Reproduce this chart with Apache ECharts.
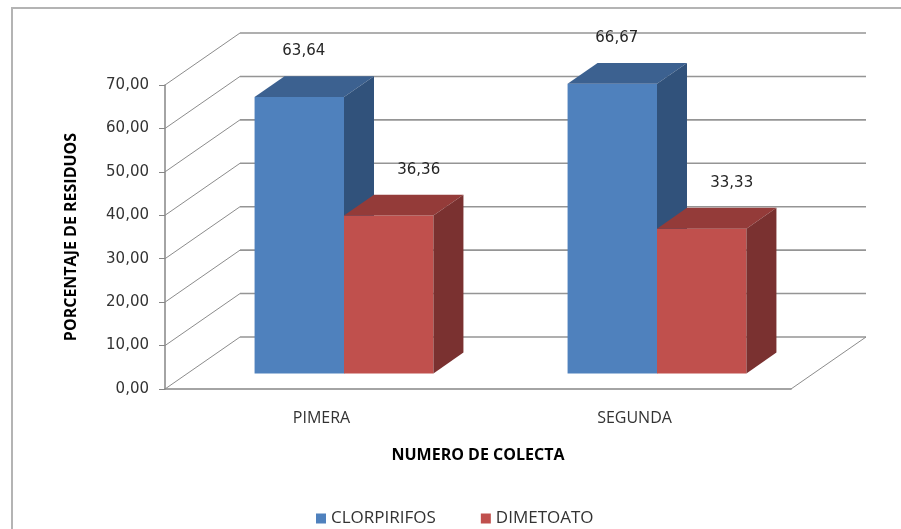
<!DOCTYPE html>
<html>
<head>
<meta charset="utf-8">
<script src="https://cdn.jsdelivr.net/npm/echarts@6/dist/echarts.min.js"></script>
<style>html,body{margin:0;padding:0;background:#fff;}#c{width:901px;height:529px;}</style>
</head>
<body>
<div id="c"></div>
<script>
// ---- data ----
const categories = ['PIMERA', 'SEGUNDA'];
const clorpirifos = [63.64, 66.67];
const dimetoato = [36.36, 33.33];
const yTicks = [0, 10, 20, 30, 40, 50, 60, 70];
const seriesNames = ['CLORPIRIFOS', 'DIMETOATO'];

// ---- style constants ----
const DX = 75, DY = -52;          // wall depth vector (px)
const D_FRONT = 0.3, D_BACK = 0.7; // bar depth fractions
const GAP = 1.5;                   // gap width (fraction of bar width)
const fmt = v => v.toFixed(2).replace('.', ',');

const palettes = [
  { front: '#4F81BD', top: '#3C6190', side: '#31527B' },
  { front: '#C0504D', top: '#943B39', side: '#7A3130' }
];
// label anchor along the top face depth: 0 = front edge centre, 1 = back edge centre
const labelAnchor = [0.15, 1];

function barRender(si) {
  return function (params, api) {
    const cat = api.value(0), val = api.value(1);
    const w = api.size([1, 0])[0];
    const base = api.coord([cat, 0]);
    const top = api.coord([cat, val]);
    const bw = w / (2 + GAP);
    const x0 = base[0] - w / 2 + (GAP / 2) * bw + si * bw + DX * D_FRONT;
    const yb = base[1] + DY * D_FRONT;
    const yt = top[1] + DY * D_FRONT;
    const ddx = DX * (D_BACK - D_FRONT), ddy = DY * (D_BACK - D_FRONT);
    const p = palettes[si];
    const lx = x0 + bw / 2 + ddx * labelAnchor[si];
    return {
      type: 'group',
      children: [
        { type: 'rect', shape: { x: x0, y: yt, width: bw, height: yb - yt }, style: { fill: p.front } },
        { type: 'polygon', shape: { points: [[x0, yt], [x0 + bw, yt], [x0 + bw + ddx, yt + ddy], [x0 + ddx, yt + ddy]] }, style: { fill: p.top } },
        { type: 'polygon', shape: { points: [[x0 + bw, yt], [x0 + bw + ddx, yt + ddy], [x0 + bw + ddx, yb + ddy], [x0 + bw, yb]] }, style: { fill: p.side } },
        { type: 'text', x: lx, y: yt + ddy - 25, style: { text: fmt(val), fill: '#262626', font: '15px "DejaVu Sans"', align: 'center', verticalAlign: 'middle' } }
      ]
    };
  };
}

function wallRender(params, api) {
  const v = api.value(1);
  const w = api.size([1, 0])[0];
  const p0 = api.coord([0, v]);
  const p1 = api.coord([categories.length - 1, v]);
  const left = p0[0] - w / 2, right = p1[0] + w / 2, y = p0[1];
  const children = [
    { type: 'line', shape: { x1: left, y1: y, x2: left + DX, y2: y + DY }, style: { stroke: '#8C8C8C', lineWidth: 1 } },
    { type: 'line', shape: { x1: left + DX, y1: y + DY, x2: right + DX, y2: y + DY }, style: { stroke: '#959595', lineWidth: 1.6 } }
  ];
  if (v === yTicks[0]) {
    children.push({ type: 'line', shape: { x1: right, y1: y, x2: right + DX, y2: y + DY }, style: { stroke: '#8C8C8C', lineWidth: 1 } });
  }
  return { type: 'group', children };
}

const chart = echarts.init(document.getElementById('c'));
chart.setOption({
  animation: false,
  backgroundColor: '#fff',
  graphic: [
    { type: 'rect', shape: { x: 12, y: 8, width: 1000, height: 1000 }, style: { fill: 'none', stroke: '#B4B4B4', lineWidth: 2 }, z: -10 }
  ],
  grid: { left: 165, top: 85, right: 110, bottom: 140 },
  xAxis: {
    type: 'category',
    data: categories,
    name: 'NUMERO DE COLECTA',
    nameLocation: 'middle',
    nameGap: 58,
    nameTextStyle: { fontFamily: 'Open Sans', fontWeight: 'bold', fontSize: 16, color: '#000' },
    axisLine: { lineStyle: { color: '#868686', width: 1.5 } },
    axisTick: { length: 6, lineStyle: { color: '#868686' } },
    axisLabel: { margin: 21, fontFamily: 'Open Sans', fontSize: 16, color: '#333' },
    splitLine: { show: false }
  },
  yAxis: {
    type: 'value',
    min: 0, max: 70, interval: 10,
    name: 'PORCENTAJE DE RESIDUOS',
    nameLocation: 'middle',
    nameRotate: 90,
    nameGap: 86,
    nameTextStyle: { fontFamily: 'Open Sans', fontWeight: 'bold', fontSize: 16, color: '#000' },
    axisLine: { show: true, lineStyle: { color: '#868686', width: 1.5 } },
    axisTick: { show: true, length: 6, lineStyle: { color: '#868686' } },
    axisLabel: { margin: 16, fontFamily: 'DejaVu Sans', fontSize: 15, color: '#333', formatter: v => fmt(v) },
    splitLine: { show: false }
  },
  legend: {
    data: seriesNames,
    left: 311, top: 505,
    itemWidth: 10, itemHeight: 10, itemGap: 45,
    icon: 'rect',
    textStyle: { fontFamily: 'Open Sans', fontSize: 17, color: '#333' }
  },
  series: [
    { type: 'custom', name: 'wall', renderItem: wallRender, data: yTicks.map(v => [0, v]), z: 1, silent: true },
    { type: 'custom', name: seriesNames[0], renderItem: barRender(0), data: clorpirifos.map((v, i) => [i, v]), itemStyle: { color: palettes[0].front }, z: 2 },
    { type: 'custom', name: seriesNames[1], renderItem: barRender(1), data: dimetoato.map((v, i) => [i, v]), itemStyle: { color: palettes[1].front }, z: 3 }
  ]
});
</script>
</body>
</html>
